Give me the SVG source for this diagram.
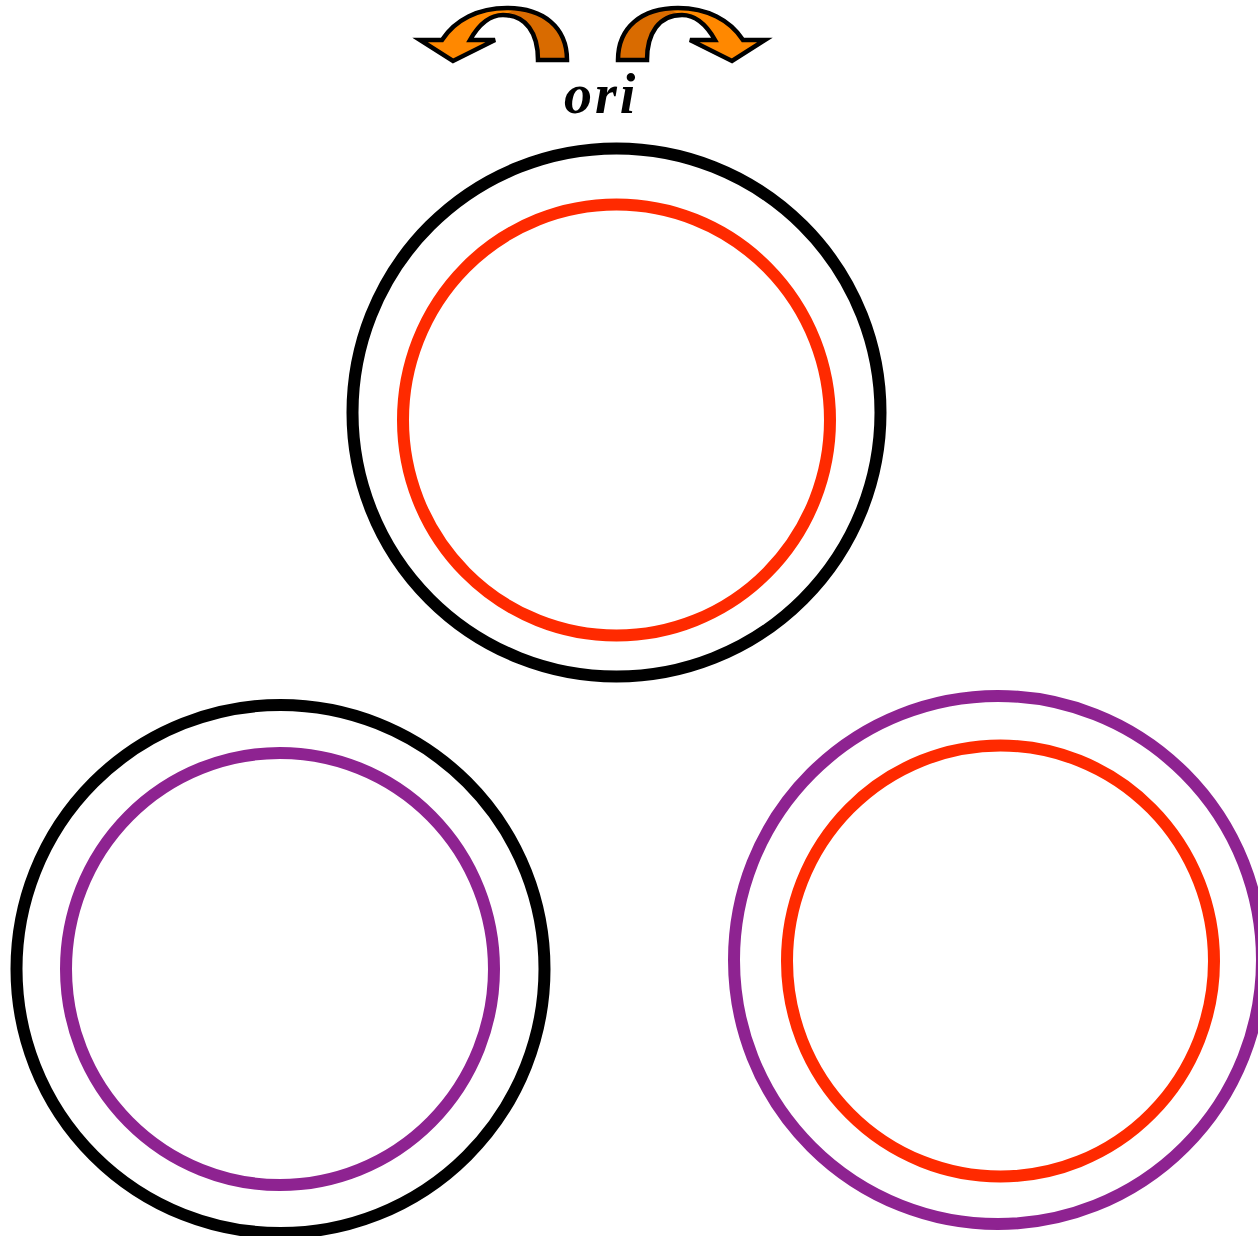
<svg xmlns="http://www.w3.org/2000/svg" width="1258" height="1236" viewBox="0 0 1258 1236">
<style>
.ring{fill:none;stroke-width:12}
.blk{stroke:#000}
.red{stroke:#FF2A00}
.pur{stroke:#8E2391}
.light{fill:#FF8800}
.dark{fill:#D96B00}
.outl{fill:none;stroke:#000;stroke-width:4.5;stroke-linejoin:miter}
.lbl{font-family:"Liberation Serif","Times New Roman",serif;font-weight:bold;font-style:italic;font-size:56px;letter-spacing:3px;fill:#000}
</style>
<defs>
<path id="arrowShape" d="M567,60 C567,27 543,8 507,8 C478,8 455,20 442,40 L420,40 L453,61 L495,40 L470,40 C479,24 490,15 503,15 C526,15 538,33 538,60 Z"/>
<clipPath id="darkClip"><polygon points="531,0 600,0 600,70 505,70 505,15"/></clipPath>
<g id="curvedArrow">
<use href="#arrowShape" class="light"/>
<use href="#arrowShape" class="dark" clip-path="url(#darkClip)"/>
<use href="#arrowShape" class="outl"/>
</g>
</defs>
<g id="arrows">
<use id="arrow-left" href="#curvedArrow"/>
<use id="arrow-right" href="#curvedArrow" transform="translate(1185,0) scale(-1,1)"/>
</g>
<g id="label-ori"><text class="lbl" x="564" y="113">ori</text></g>
<g id="node-top">
<circle class="ring blk" cx="616.5" cy="412.5" r="264"/>
<ellipse class="ring red" cx="616.5" cy="420" rx="213.5" ry="215.5"/>
</g>
<g id="node-bottom-left">
<circle class="ring blk" cx="280.5" cy="969" r="264"/>
<ellipse class="ring pur" cx="280" cy="969" rx="214" ry="216"/>
</g>
<g id="node-bottom-right">
<circle class="ring pur" cx="998" cy="960" r="264"/>
<ellipse class="ring red" cx="1000.5" cy="961" rx="213.5" ry="215.5"/>
</g>
<g id="connectors"></g>
</svg>
